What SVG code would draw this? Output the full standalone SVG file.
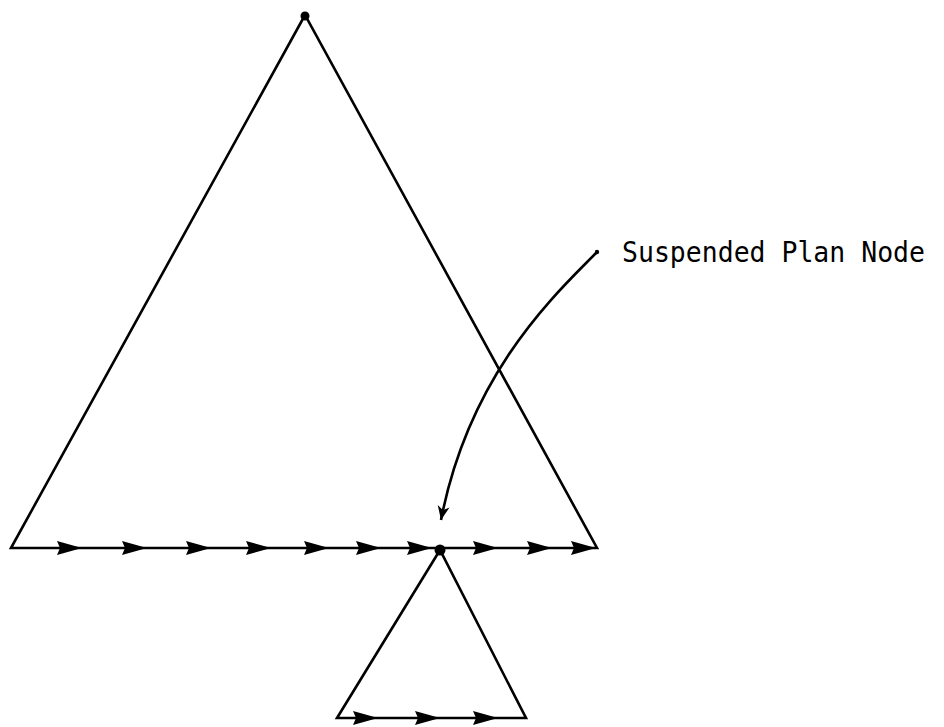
<svg xmlns="http://www.w3.org/2000/svg" width="944" height="727" viewBox="0 0 944 727">
<style>
.ln{fill:none;stroke:#000;stroke-width:2.6;stroke-linejoin:miter}
.ah{fill:#000}
.lbl{font-family:"DejaVu Sans Mono","Liberation Mono",monospace;font-size:27.5px;fill:#000}
</style>
<defs>
<path id="tri" d="M0,0 L-25,-7 L-22,0 L-25,7 Z"/>
<marker id="cur" markerWidth="20" markerHeight="14" refX="14" refY="6" orient="auto" markerUnits="userSpaceOnUse">
<path d="M0,0 L14,6 L0,12 L4,6 Z" fill="#000"/>
</marker>
</defs>
<rect width="944" height="727" fill="#fff"/>
<g id="plan-tree">
<path class="ln" d="M11,548 L305,15 L597,548 Z"/>
<circle cx="305" cy="16" r="4.5" fill="#000"/>
</g>
<g id="suspended-node">
<path class="ln" d="M337,718 L440,550 L526,718 Z"/>
<circle cx="440" cy="550" r="5.5" fill="#000"/>
</g>
<g id="connectors">
<g class="ah">
<use href="#tri" x="82" y="548"/>
<use href="#tri" x="147" y="548"/>
<use href="#tri" x="211" y="548"/>
<use href="#tri" x="271" y="548"/>
<use href="#tri" x="329" y="548"/>
<use href="#tri" x="381" y="548"/>
<use href="#tri" x="432" y="548"/>
<use href="#tri" x="498" y="548"/>
<use href="#tri" x="552" y="548"/>
<use href="#tri" x="596" y="548"/>
<use href="#tri" x="378" y="718"/>
<use href="#tri" x="440" y="718"/>
<use href="#tri" x="498" y="718"/>
</g>
<path class="ln" d="M597,252 C560,290 470,370 441,520" marker-end="url(#cur)"/>
<circle cx="597" cy="252" r="2.2" fill="#000"/>
</g>
<g id="label">
<text class="lbl" x="622" y="262" textLength="303" lengthAdjust="spacingAndGlyphs">Suspended Plan Node</text>
</g>
</svg>
